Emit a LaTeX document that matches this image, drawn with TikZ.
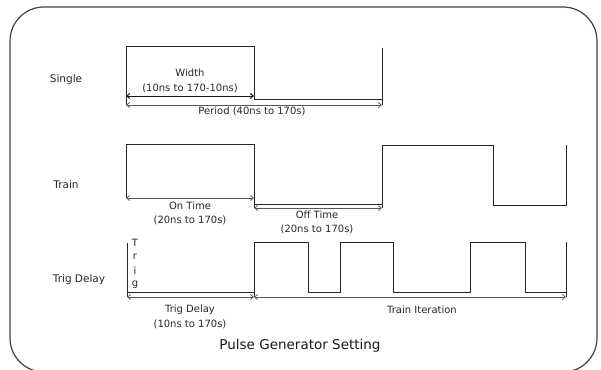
\documentclass[tikz,border=0pt]{standalone}
\usepackage{fontspec}
\setmainfont{DejaVu Sans}
\usetikzlibrary{arrows.meta}
\begin{document}
\begin{tikzpicture}[x=1pt,y=-1pt,
  wave/.style={draw=black!85, line width=1pt},
  dim/.style={draw=black!65, line width=0.8pt, {Straight Barb[length=3pt,width=5pt]}-{Straight Barb[length=3pt,width=5pt]}},
  dimdark/.style={dim, draw=black!90, line width=1pt},
  lbl/.style={font=\fontsize{10}{11}\selectfont, text=black!85, inner sep=0pt},
  rowlbl/.style={font=\fontsize{10.5}{12}\selectfont, text=black!85, inner sep=0pt},
  titlelbl/.style={font=\fontsize{13.5}{15}\selectfont, text=black!90, inner sep=0pt}]
\useasboundingbox (0,0) rectangle (601,369);
\clip (0,0) rectangle (601,369);
\draw[black!75, line width=1.2pt, rounded corners=34pt] (10,7) rectangle (597,372);

% ---------- Single ----------
\node[rowlbl] (lsingle) at (66,80) {Single};
\coordinate (s1) at (126,105);
\coordinate (s2) at (254,96);
\coordinate (s3) at (382,105);
\draw[wave] (126,105) -- (126,47) -- (254,47) -- (254,99) -- (382,99);
\draw[wave] (382,48) -- (s3);
\draw[dimdark] (126,96) -- (s2);
\draw[dim] (s1) -- (s3);
\node[lbl] (lwidth) at (190,73) {Width};
\node[lbl] (lwidthr) at (190,88) {(10ns to 170-10ns)};
\node[lbl] (lperiod) at (252,111) {Period (40ns to 170s)};

% ---------- Train ----------
\node[rowlbl] (ltrain) at (66,185) {Train};
\coordinate (t1) at (126,198);
\coordinate (t2) at (254,198);
\coordinate (t3) at (254,208);
\coordinate (t4) at (382,208);
\draw[wave] (t1) -- (126,144) -- (254,144) -- (t3);
\draw[wave] (254,204) -- (382,204);
\draw[wave] (t4) -- (382,145) -- (493,145) -- (493,205) -- (566,205) -- (566,145);
\draw[dim] (t1) -- (t2);
\draw[dim] (t3) -- (t4);
\node[lbl] (lon) at (190,206) {On Time};
\node[lbl] (lonr) at (190,220) {(20ns to 170s)};
\node[lbl] (loff) at (317,215) {Off Time};
\node[lbl] (loffr) at (317,229) {(20ns to 170s)};

% ---------- Trig Delay ----------
\node[rowlbl] (ltrig) at (79,280) {Trig Delay};
\coordinate (d1) at (127,297);
\coordinate (d2) at (254,297);
\coordinate (d3) at (566,297);
\draw[wave] (127,243) -- (d1);
\draw[wave] (127,292) -- (254,292);
\draw[wave] (d2) -- (254,242) -- (308,242) -- (308,292) -- (340,292) -- (340,242)
  -- (393,242) -- (393,292) -- (470,292) -- (470,242) -- (525,242) -- (525,292) -- (566,292);
\draw[wave] (566,242) -- (d3);
\draw[dim] (d1) -- (d2);
\draw[dim] (d2) -- (d3);
\node[lbl] (tT) at (135,243) {T};
\node[lbl] (tr) at (135,257) {r};
\node[lbl] (ti) at (135,271) {i};
\node[lbl] (tg) at (135,285) {g};
\node[lbl] (ltd) at (190,310) {Trig Delay};
\node[lbl] (ltdr) at (190,324) {(10ns to 170s)};
\node[lbl] (lti) at (422,310) {Train Iteration};

% ---------- Title ----------
\node[titlelbl] (title) at (300,346) {Pulse Generator Setting};
\end{tikzpicture}
\end{document}
